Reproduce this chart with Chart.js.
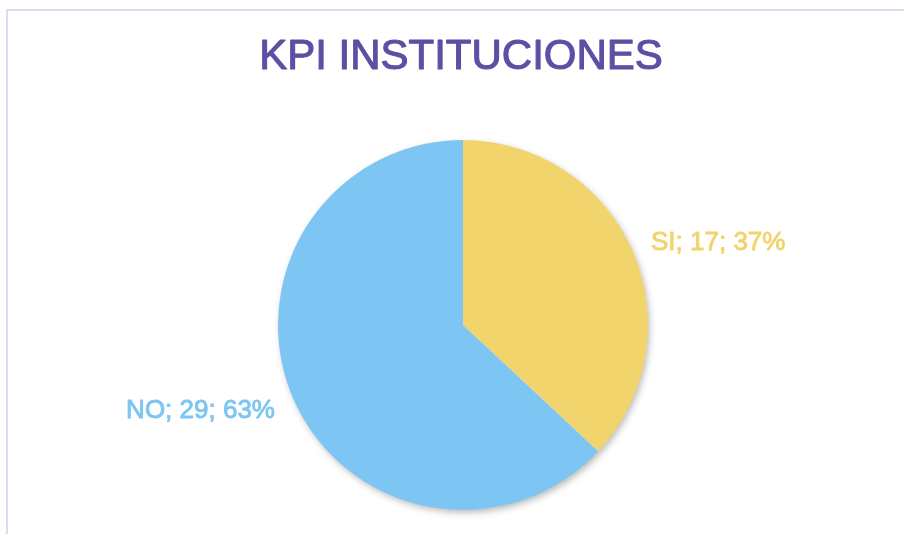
<!DOCTYPE html>
<html>
<head>
<meta charset="utf-8">
<script src="https://cdn.jsdelivr.net/npm/chart.js@4/dist/chart.umd.min.js"></script>
<style>
html,body{margin:0;padding:0;background:#fff;}
#wrap{width:904px;height:534px;position:relative;}
</style>
</head>
<body>
<div id="wrap"><canvas id="c" width="904" height="534"></canvas></div>
<script>
const categories = ["SI", "NO"];
const values = [17, 29];
const colors = ["#F2D46C", "#7DC5F2"];
const titleText = "KPI INSTITUCIONES";
const titleColor = "#5B50A3";

const total = values.reduce((a, b) => a + b, 0);
const FONT = '"Liberation Sans", Arial, sans-serif';

const framePlugin = {
  id: 'frame',
  beforeDraw(chart) {
    const ctx = chart.ctx;
    ctx.save();
    ctx.strokeStyle = '#DCDCEE';
    ctx.lineWidth = 2;
    ctx.beginPath();
    ctx.moveTo(7, 540);
    ctx.lineTo(7, 10);
    ctx.lineTo(910, 10);
    ctx.stroke();
    ctx.restore();
  }
};

const titlePlugin = {
  id: 'heavyTitle',
  afterDraw(chart) {
    const ctx = chart.ctx;
    ctx.save();
    ctx.font = '42px ' + FONT;
    ctx.textAlign = 'center';
    ctx.textBaseline = 'alphabetic';
    ctx.fillStyle = titleColor;
    ctx.strokeStyle = titleColor;
    ctx.lineWidth = 1.1;
    ctx.lineJoin = 'round';
    ctx.fillText(titleText, 461, 69);
    ctx.strokeText(titleText, 461, 69);
    ctx.restore();
  }
};

const shadowPlugin = {
  id: 'pieShadow',
  beforeDatasetsDraw(chart) {
    const arc = chart.getDatasetMeta(0).data[0];
    if (!arc) return;
    const ctx = chart.ctx;
    ctx.save();
    ctx.shadowColor = 'rgba(0,0,0,0.28)';
    ctx.shadowBlur = 7;
    ctx.shadowOffsetX = 2;
    ctx.shadowOffsetY = 3;
    ctx.fillStyle = '#ffffff';
    ctx.beginPath();
    ctx.arc(arc.x, arc.y, arc.outerRadius - 0.5, 0, Math.PI * 2);
    ctx.fill();
    ctx.restore();
  }
};

const labelPlugin = {
  id: 'outLabels',
  afterDatasetsDraw(chart) {
    const ctx = chart.ctx;
    const meta = chart.getDatasetMeta(0);
    ctx.save();
    ctx.font = '26px ' + FONT;
    ctx.textBaseline = 'middle';
    ctx.lineWidth = 0.9;
    ctx.lineJoin = 'round';
    meta.data.forEach((arc, i) => {
      const mid = (arc.startAngle + arc.endAngle) / 2;
      const x = arc.x + Math.cos(mid) * (arc.outerRadius + 20);
      const y = arc.y + Math.sin(mid) * (arc.outerRadius + 25.5) + 2;
      const pct = Math.round(values[i] / total * 100);
      const txt = categories[i] + '; ' + values[i] + '; ' + pct + '%';
      ctx.fillStyle = colors[i];
      ctx.strokeStyle = colors[i];
      ctx.textAlign = Math.cos(mid) >= 0 ? 'left' : 'right';
      ctx.fillText(txt, x, y);
      ctx.strokeText(txt, x, y);
    });
    ctx.restore();
  }
};

new Chart(document.getElementById('c'), {
  type: 'pie',
  data: {
    labels: categories,
    datasets: [{
      data: values,
      backgroundColor: colors,
      borderWidth: 0,
      hoverOffset: 0
    }]
  },
  options: {
    responsive: false,
    animation: false,
    layout: { padding: { left: 22, right: 0, top: 140, bottom: 24 } },
    plugins: {
      legend: { display: false },
      tooltip: { enabled: false },
      title: { display: false }
    }
  },
  plugins: [framePlugin, shadowPlugin, labelPlugin, titlePlugin]
});
</script>
</body>
</html>
